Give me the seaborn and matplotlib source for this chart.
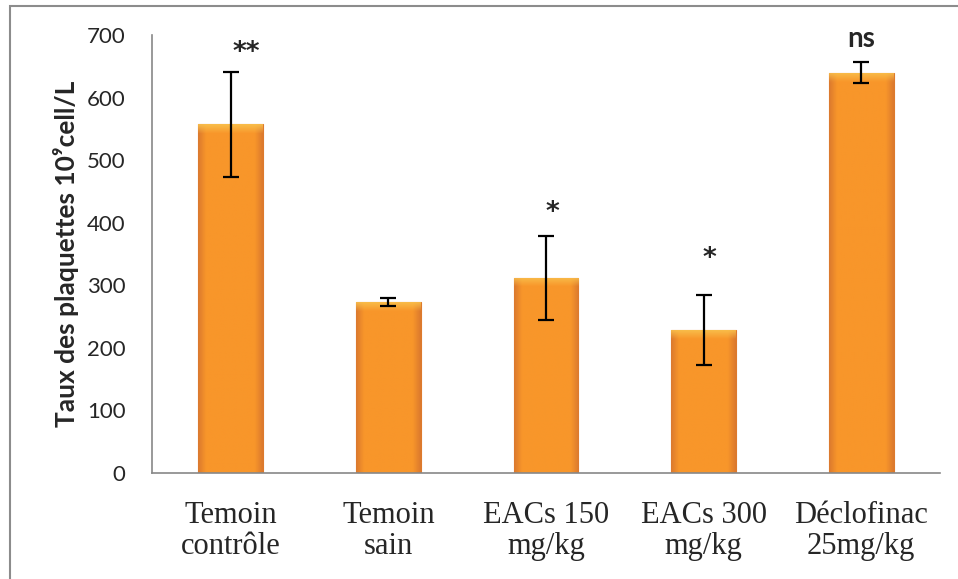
import matplotlib
matplotlib.use("Agg")
import matplotlib.pyplot as plt
from matplotlib.patches import Rectangle
from matplotlib.colors import to_rgb
import seaborn as sns
import pandas as pd
import numpy as np

categories = ["Temoin\ncontrôle", "Temoin\nsain", "EACs 150\nmg/kg", "EACs 300\nmg/kg", "Déclofinac\n25mg/kg"]
means = [557, 273, 312, 228, 640]
errors = [84, 6, 67, 56, 17]
signif = ["**", "", "*", "*", "ns"]
signif_x = [0.10, 0, 0.04, 0.04, 0.0]
signif_y = [672, 0, 416, 342, 694]
yticks = [0, 100, 200, 300, 400, 500, 600, 700]
ylabel = "Taux des plaquettes 10\u2079cell/L"

sns.set_style("white")
plt.rcParams["font.family"] = ["Lato", "DejaVu Sans"]

df = pd.DataFrame({"group": categories, "value": means})

fig = plt.figure(figsize=(9.58, 5.79), dpi=100)
ax = fig.add_axes([152/958, 1 - 473/579, (940 - 152)/958, (473 - 35)/579])

sns.barplot(data=df, x="group", y="value", ax=ax, color="#F5922B",
            width=0.41, saturation=1, edgecolor="#DD7A2C", linewidth=0.8)

ax.set_ylim(0, 700)
ax.set_xlim(-0.5, len(categories) - 0.5)

# subtle bevel shading on each bar
edge_c = np.array(to_rgb("#DC7A2E"))
mid_c = np.array(to_rgb("#F8962A"))
top_c = np.array(to_rgb("#F9C24E"))
nx, ny = 60, 200
u = np.linspace(0, 1, nx)
hprof = np.clip(np.minimum(u, 1 - u) / 0.12, 0, 1)
for p in ax.patches:
    x0, y0 = p.get_x(), p.get_y()
    w, h = p.get_width(), p.get_height()
    img = edge_c[None, None, :] + (mid_c - edge_c)[None, None, :] * hprof[None, :, None]
    img = np.repeat(img, ny, axis=0)
    band = 14.0
    yy = np.linspace(y0 + h, y0, ny)
    t = np.clip(1 - (y0 + h - yy) / band, 0, 1)[:, None, None]
    img = img * (1 - t * 0.85) + top_c[None, None, :] * (t * 0.85)
    im = ax.imshow(img, extent=[x0, x0 + w, y0, y0 + h], aspect="auto",
                   origin="upper", zorder=p.get_zorder() + 0.1, interpolation="bilinear")
    im.set_clip_path(p)

x = np.arange(len(categories))
ax.errorbar(x, means, yerr=errors, fmt="none", ecolor="black",
            elinewidth=1.6, capsize=6, capthick=1.6, zorder=5)

for xi, s, sx, sy in zip(x, signif, signif_x, signif_y):
    if s == "ns":
        ax.text(xi + sx, sy, s, ha="center", va="center", fontsize=20,
                fontweight="bold", family=["Lato", "DejaVu Sans"])
    elif s:
        ax.text(xi + sx, sy, s, ha="center", va="center", fontsize=19,
                fontweight="bold", family=["DejaVu Sans"])

ax.set_ylim(0, 700)
ax.set_xlim(-0.5, len(categories) - 0.5)
ax.set_yticks(yticks)
ax.set_yticklabels([str(t) for t in yticks], fontsize=16)
ax.set_xticks(x)
ax.set_xticklabels(categories, fontsize=22, family=["Liberation Serif"], linespacing=1.12)
ax.set_xticks(np.arange(-0.5, len(categories)), minor=True)
ax.tick_params(axis="x", which="major", length=0, pad=20)
ax.tick_params(axis="x", which="minor", length=8, color="#888888", width=1.2, direction="out")
ax.tick_params(axis="y", which="major", length=7, color="#888888", width=1.2, direction="out", pad=12)
ax.set_xlabel("")
ax.set_ylabel(ylabel, fontsize=19, fontweight="bold", labelpad=6,
              family=["Lato", "DejaVu Sans"])

for side in ["top", "right"]:
    ax.spines[side].set_visible(False)
for side in ["left", "bottom"]:
    ax.spines[side].set_color("#888888")
    ax.spines[side].set_linewidth(1.2)

fig.patches.append(Rectangle((10/958, -0.05), 1.0, 1 - 6/579 + 0.05,
                             transform=fig.transFigure, fill=False,
                             edgecolor="#8c8c8c", linewidth=1.5))

fig.savefig("out.png", dpi=100)
